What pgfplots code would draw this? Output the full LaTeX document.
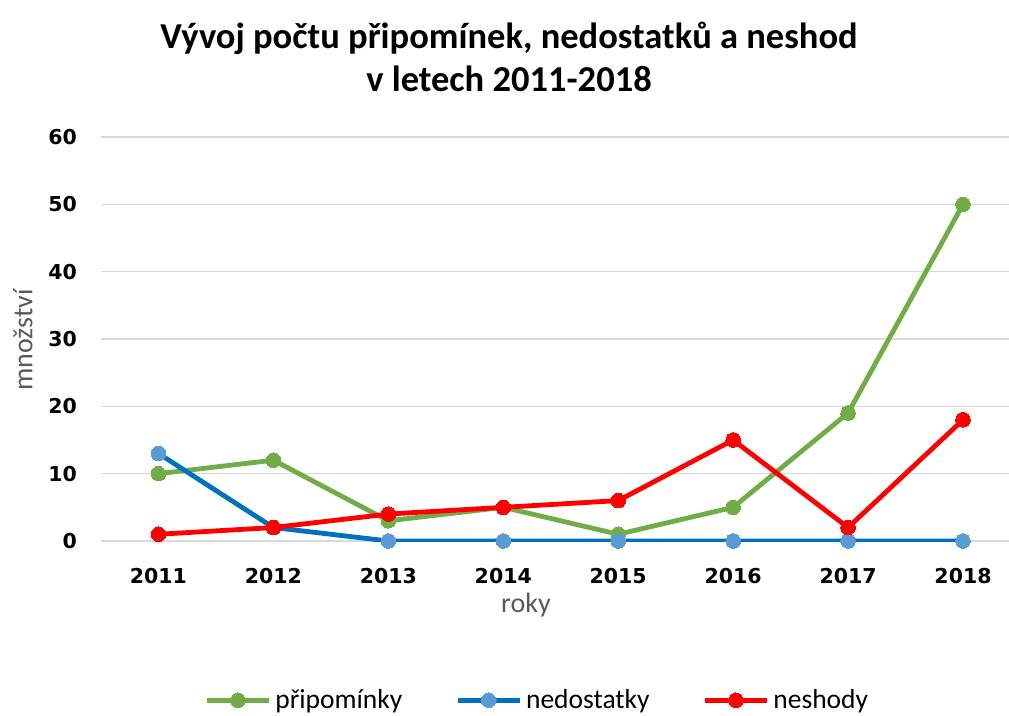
\documentclass[border=0pt]{standalone}
\usepackage{pgfplots}
\pgfplotsset{compat=1.18}
\usepackage{fontspec}
\setmainfont{Carlito}
\newfontfamily\tickfont{DejaVu Sans}
\definecolor{cgreen}{HTML}{70AD47}
\definecolor{cblue}{HTML}{0070C0}
\definecolor{cbluem}{HTML}{5B9BD5}
\definecolor{cred}{HTML}{FF0000}
\definecolor{cgrid}{HTML}{D9D9D9}
\definecolor{clabel}{HTML}{595959}
\begin{document}
\begin{tikzpicture}[x=1pt,y=1pt]
\useasboundingbox (0,0) rectangle (1009,715);
\begin{axis}[
  at={(101pt,174pt)}, anchor=south west,
  scale only axis, width=908pt, height=404pt,
  xmin=2010.5, xmax=2018.4, ymin=0, ymax=60,
  xtick={2011,2012,2013,2014,2015,2016,2017,2018},
  xticklabels={2011,2012,2013,2014,2015,2016,2017,2018},
  ytick={0,10,20,30,40,50,60},
  axis line style={draw=none},
  major tick length=0pt,
  ymajorgrids, grid style={cgrid, line width=1.3pt},
  /pgf/number format/assume math mode=true,
  ticklabel style={font=\tickfont\bfseries\fontsize{20.5}{24}\selectfont, text=black},
  yticklabel style={inner sep=0pt, xshift=-24pt},
  xticklabel style={inner sep=0pt, yshift=-27pt},
  ylabel={množství},
  ylabel style={at={(axis description cs:-0.086,0.4975)}, anchor=center, rotate=0, font=\fontsize{28}{32}\selectfont, text=clabel},
  xlabel={roky},
  xlabel style={at={(axis description cs:0.468,-0.178)}, anchor=base, font=\fontsize{28}{32}\selectfont, text=clabel},
  legend columns=3,
  legend style={at={(axis description cs:0.480,-0.394)}, anchor=center, draw=none, fill=none,
    font=\fontsize{27.5}{32}\selectfont,
    nodes={inner sep=1pt},
    /tikz/every odd column/.append style={column sep=3pt},
    /tikz/every even column/.append style={column sep=52pt}},
  legend cell align=left,
  legend image code/.code={\draw[mark repeat=2,mark phase=2] plot coordinates {(0pt,0pt)(31pt,0pt)(62pt,0pt)};},
  every axis plot/.append style={line width=4.8pt, mark=*, mark size=7.3pt},
]
\addplot[color=cgreen, mark options={draw=cgreen, fill=cgreen, line width=0pt}] coordinates {
  (2011,10) (2012,12) (2013,3) (2014,5) (2015,1) (2016,5) (2017,19) (2018,50)};
\addlegendentry{připomínky}
\addplot[color=cblue, mark options={draw=cbluem, fill=cbluem, line width=0pt}] coordinates {
  (2011,13) (2012,2) (2013,0) (2014,0) (2015,0) (2016,0) (2017,0) (2018,0)};
\addlegendentry{nedostatky}
\addplot[color=cred, mark options={draw=cred, fill=cred, line width=0pt}] coordinates {
  (2011,1) (2012,2) (2013,4) (2014,5) (2015,6) (2016,15) (2017,2) (2018,18)};
\addlegendentry{neshody}
\end{axis}
\node[anchor=base, font=\bfseries\fontsize{36.5}{43}\selectfont] at (509,666) {Vývoj počtu připomínek, nedostatků a neshod};
\node[anchor=base, font=\bfseries\fontsize{36.5}{43}\selectfont] at (509,623) {v letech 2011-2018};
\end{tikzpicture}
\end{document}
